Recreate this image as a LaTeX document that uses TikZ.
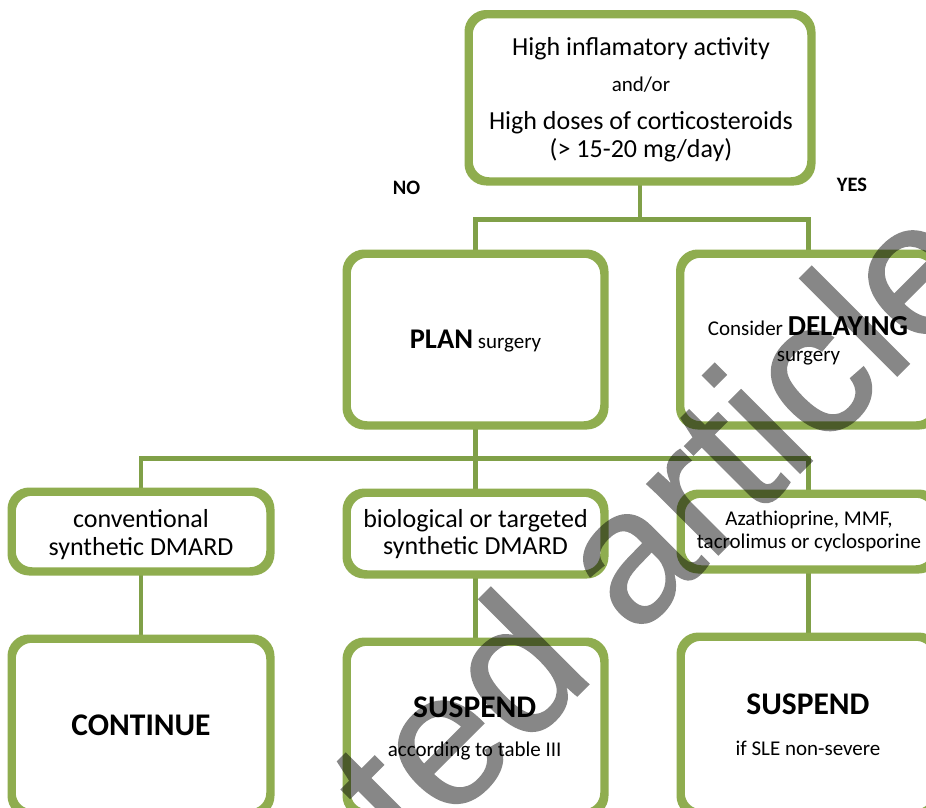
\documentclass[tikz,border=0pt]{standalone}
\usepackage{fontspec}
\setmainfont{Carlito}
\newfontfamily\wmfont[FakeBold=0.9]{Liberation Sans}
\definecolor{boxgreen}{HTML}{8FAD4F}
\definecolor{linegreen}{HTML}{80A048}
\begin{document}
\begin{tikzpicture}[x=1pt,y=-1pt,
  box/.style={draw=boxgreen, line width=5.5pt, rounded corners=19pt, fill=white, inner sep=0pt},
  boxline/.style={draw=boxgreen, line width=5.5pt, rounded corners=19pt},
  conn/.style={draw=linegreen, line width=4.5pt},
  txt/.style={anchor=base, inner sep=0pt, text=black},
  maintxt/.style={txt, font=\fontsize{26}{31}\selectfont},
  smalltxt/.style={txt, font=\fontsize{21}{25}\selectfont},
  bigbold/.style={txt, font=\fontsize{31.5}{36}\selectfont\bfseries},
  labeltxt/.style={txt, font=\fontsize{20.5}{24}\selectfont\bfseries},
  wmark/.style={anchor=base west, rotate=45, inner sep=0pt, font=\wmfont\fontsize{190}{190}\selectfont, text=black}]
\useasboundingbox (0,0) rectangle (926,807);
\clip (0,0) rectangle (926,807);
\fill[white] (0,0) rectangle (926,807);
% boxes (geometry)
\node[box, minimum width=340pt, minimum height=164.5pt] (top) at (640,97.75) {};
\node[box, minimum width=255pt, minimum height=169pt] (plan) at (475.5,339.5) {};
\node[box, minimum width=254pt, minimum height=169pt] (delay) at (808.5,339.5) {};
\node[box, minimum width=256pt, minimum height=77pt] (conv) at (141,531.5) {};
\node[box, minimum width=255pt, minimum height=79pt] (bio) at (475.5,533.5) {};
\node[box, minimum width=253pt, minimum height=73pt] (aza) at (808.5,531.5) {};
\node[box, minimum width=256pt, minimum height=172pt] (cont) at (141,726) {};
\node[box, minimum width=255pt, minimum height=169pt] (suspa) at (475.5,727.5) {};
\node[box, minimum width=253pt, minimum height=174pt] (suspb) at (808.5,725) {};
% connectors
\coordinate (j1) at (641,219.5);
\coordinate (j2) at (475.5,458.5);
\draw[conn] (top.south) -- (top.south |- j1);
\draw[conn] (plan.north) -- (plan.north |- j1) -- (delay.north |- j1) -- (delay.north);
\draw[conn] (plan.south) -- (j2);
\draw[conn] (conv.north) -- (conv.north |- j2) -- (aza.north |- j2) -- (aza.north);
\draw[conn] (j2) -- (bio.north);
\draw[conn] (conv.south) -- (cont.north);
\draw[conn] (bio.south) -- (suspa.north);
\draw[conn] (aza.south) -- (suspb.north);
% redraw box borders over connector ends
\foreach \n in {top,plan,delay,conv,bio,aza,cont,suspa,suspb}{
  \draw[boxline] (\n.south west) rectangle (\n.north east);
}
% texts
\node[maintxt] (t1) at (641,55) {High inflamatory activity};
\node[smalltxt] (t2) at (641,91.5) {and/or};
\node[maintxt] (t3) at (641,129) {High doses of corticosteroids};
\node[maintxt] (t4) at (641,157) {(> 15-20 mg/day)};
\node[labeltxt] (no) at (406.5,194) {NO};
\node[labeltxt] (yes) at (852,191.5) {YES};
\node[smalltxt] (p1) at (475.5,348.3) {{\fontsize{28.5}{33}\selectfont\bfseries PLAN} surgery};
\node[smalltxt] (d1) at (808,335.7) {Consider {\fontsize{29}{33}\selectfont\bfseries DELAYING}};
\node[smalltxt] (d2) at (808.5,361) {surgery};
\node[maintxt] (c1) at (141,527) {conventional};
\node[maintxt] (c2) at (141,555) {synthetic DMARD};
\node[maintxt] (b1) at (475.5,527.5) {biological or targeted};
\node[maintxt] (b2) at (475.5,554.7) {synthetic DMARD};
\node[smalltxt] (a1) at (809,525.6) {Azathioprine, MMF,};
\node[smalltxt] (a2) at (809,548.8) {tacrolimus or cyclosporine};
\node[bigbold] (ct) at (141,735) {CONTINUE};
\node[bigbold] (s1) at (474.7,717.3) {SUSPEND};
\node[smalltxt] (s1b) at (474.7,756.7) {according to table III};
\node[bigbold] (s2) at (808,714.3) {SUSPEND};
\node[smalltxt] (s2b) at (808,755) {if SLE non-severe};
% watermark
\begin{scope}[transparency group, opacity=0.47]
\node[wmark] (wm) at (37,1236) {Accepted article};
\end{scope}
\end{tikzpicture}
\end{document}
